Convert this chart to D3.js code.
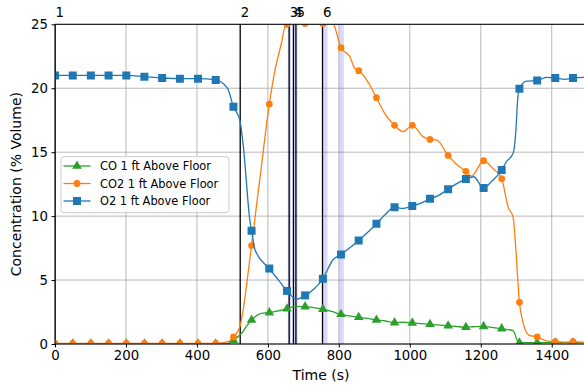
<!DOCTYPE html>
<html><head><meta charset="utf-8">
<script src="https://cdn.jsdelivr.net/npm/d3@7"></script>
<style>body{margin:0;background:#fff}text{font-family:"DejaVu Sans",sans-serif}</style>
</head><body><svg id="c" width="584" height="389"></svg>
<script>
// ---- data ----
const markerTimes = [0,50,101,151,201,252,302,352,403,453,503,554,604,654,705,755,806,856,906,957,1007,1057,1108,1158,1208,1259,1309,1359,1410,1460];
const coMarkers  = [0.02,0.02,0.02,0.02,0.02,0.02,0.02,0.02,0.02,0.02,0.3,1.88,2.45,2.76,2.92,2.71,2.32,2.09,1.88,1.67,1.65,1.54,1.43,1.31,1.38,1.2,0.1,0.1,0.1,0.1];
const co2Markers = [0.05,0.05,0.05,0.05,0.05,0.05,0.05,0.05,0.05,0.05,0.55,7.7,18.75,25.0,25.05,25.05,23.17,21.37,19.26,17.1,17.1,16.0,14.75,13.5,14.33,12.93,3.26,0.55,0.18,0.18];
const o2Markers  = [21.0,21.0,21.0,21.0,21.0,20.9,20.8,20.75,20.75,20.65,18.55,8.86,5.9,4.15,3.8,5.1,7.0,8.1,9.4,10.7,10.8,11.35,12.1,12.9,12.2,13.6,19.96,20.6,20.8,20.8];

const coTimes  = [0,453,490,503,526,540,554,582,604,630,654,680,705,730,755,780,806,830,856,880,906,930,957,980,1007,1030,1057,1080,1108,1130,1158,1180,1208,1230,1259,1291,1305,1309,1359,1410,1460,1500];
const coValues = [0.02,0.02,0.05,0.3,0.84,1.4,1.88,2.4,2.45,2.6,2.76,2.95,2.92,2.85,2.71,2.55,2.32,2.2,2.09,2.0,1.88,1.8,1.67,1.7,1.65,1.6,1.54,1.5,1.43,1.38,1.31,1.35,1.38,1.3,1.2,1.04,0.18,0.1,0.1,0.1,0.1,0.1];

const co2Times  = [0,453,490,503,521,549,554,580,604,620,638,651,654,680,705,730,755,770,786,806,831,845,856,882,906,930,957,981,1007,1038,1057,1076,1108,1130,1158,1174,1208,1235,1259,1277,1291,1299,1309,1320,1335,1359,1384,1410,1435,1460,1500];
const co2Values = [0.05,0.05,0.2,0.55,1.35,6.6,7.7,13.5,18.75,21.4,23.5,25.0,25.0,25.6,25.05,25.4,25.05,25.6,25.0,23.17,22.47,21.55,21.37,20.5,19.26,18.0,17.1,16.6,17.1,16.2,16.0,15.95,14.75,14.1,13.5,13.13,14.33,13.7,12.93,10.7,9.95,7.35,3.26,1.6,0.7,0.55,0.25,0.18,0.15,0.18,0.1];

const o2Times  = [0,201,252,302,352,403,453,486,503,521,531,550,554,564,604,630,654,681,705,730,755,783,806,830,856,880,906,930,957,980,1007,1030,1057,1080,1108,1130,1158,1180,1208,1230,1259,1272,1291,1299,1304,1309,1329,1359,1384,1410,1437,1460,1500];
const o2Values = [21.0,21.0,20.9,20.8,20.75,20.75,20.65,20.0,18.55,17.5,15.4,9.5,8.86,7.35,5.9,5.0,4.15,3.5,3.8,4.3,5.1,6.57,7.0,7.5,8.1,8.7,9.4,10.1,10.7,10.6,10.8,11.0,11.35,11.6,12.1,12.5,12.9,13.08,12.2,12.7,13.6,14.25,14.9,16.7,19.1,19.96,20.55,20.6,20.85,20.8,20.7,20.8,20.85];

const eventLabels = ["1","2","3","4","5","6"];
const eventTimes  = [0,522,660,672,679,754];
const bandStarts  = [656,670,754,801];
const bandEnds    = [665,684,768,814];

const seriesNames = ["CO 1 ft Above Floor","CO2 1 ft Above Floor","O2 1 ft Above Floor"];
const seriesColors = ["#2ca02c","#ff7f0e","#1f77b4"];
const xTicks = [0,200,400,600,800,1000,1200,1400];
const yTicks = [0,5,10,15,20,25];

// ---- chart ----
const svg = d3.select("#c");
const L = 55, T = 24.3, B = 344;
const x = d3.scaleLinear().domain([0,1500]).range([L, L + 1500*0.3548]);
const y = d3.scaleLinear().domain([0,25]).range([B, T]);
const R = 600;

svg.append("defs").append("clipPath").attr("id","clip")
  .append("rect").attr("x",L).attr("y",T).attr("width",R-L).attr("height",B-T);

// grid
const g = svg.append("g");
g.selectAll(".gx").data(xTicks).join("line")
  .attr("x1",d=>x(d)).attr("x2",d=>x(d)).attr("y1",T).attr("y2",B)
  .attr("stroke","#b0b0b0").attr("stroke-width",0.9);
g.selectAll(".gy").data(yTicks).join("line")
  .attr("x1",L).attr("x2",R).attr("y1",d=>y(d)).attr("y2",d=>y(d))
  .attr("stroke","#b0b0b0").attr("stroke-width",0.9);

const plot = svg.append("g").attr("clip-path","url(#clip)");
// bands
plot.selectAll(".band").data(bandStarts).join("rect")
  .attr("x",(d)=>x(d)).attr("width",(d,i)=>x(bandEnds[i])-x(d))
  .attr("y",T).attr("height",B-T).attr("fill","rgb(0,0,255)").attr("fill-opacity",0.15);
// event lines
plot.selectAll(".ev").data(eventTimes).join("line")
  .attr("x1",d=>x(d)).attr("x2",d=>x(d)).attr("y1",T).attr("y2",B)
  .attr("stroke","#000").attr("stroke-width",1.3);

const line = d3.line().x(d=>x(d[0])).y(d=>y(d[1])).curve(d3.curveMonotoneX);
const lineData = [
  d3.zip(coTimes,coValues), d3.zip(co2Times,co2Values), d3.zip(o2Times,o2Values)
];
const markData = [
  d3.zip(markerTimes,coMarkers), d3.zip(markerTimes,co2Markers), d3.zip(markerTimes,o2Markers)
];
const symbols = [d3.symbolTriangle, d3.symbolCircle, d3.symbolSquare];
const symSizes = [40, 36, 64];

function drawMarker(sel, i){
  sel.attr("d", d3.symbol().type(symbols[i]).size(symSizes[i])()).attr("fill",seriesColors[i]);
}
for (let i=0;i<3;i++){
  plot.append("path").datum(lineData[i]).attr("d",line)
    .attr("fill","none").attr("stroke",seriesColors[i]).attr("stroke-width",1.3);
  plot.selectAll(".m"+i).data(markData[i]).join("path")
    .attr("transform",d=>`translate(${x(d[0])},${y(d[1])})`)
    .call(drawMarker,i);
}

// spines
svg.append("line").attr("x1",L).attr("x2",L).attr("y1",T).attr("y2",B).attr("stroke","#000").attr("stroke-width",1);
svg.append("line").attr("x1",L).attr("x2",R).attr("y1",B).attr("y2",B).attr("stroke","#000").attr("stroke-width",1);
svg.append("line").attr("x1",L).attr("x2",R).attr("y1",T).attr("y2",T).attr("stroke","#000").attr("stroke-width",1);

// axes
const xa = svg.append("g").attr("transform",`translate(0,${B})`)
  .call(d3.axisBottom(x).tickValues(xTicks).tickSize(3.5).tickPadding(3.5).tickFormat(d3.format("d")));
const ya = svg.append("g").attr("transform",`translate(${L},0)`)
  .call(d3.axisLeft(y).tickValues(yTicks).tickSize(3.5).tickPadding(3.5));
[xa,ya].forEach(a=>{
  a.select(".domain").remove();
  a.selectAll("text").attr("font-family","DejaVu Sans").attr("font-size",13.3).attr("fill","#000");
  a.selectAll("line").attr("stroke","#000");
});

svg.append("text").attr("x",321).attr("y",380).attr("text-anchor","middle")
  .attr("font-size",14).text("Time (s)");
svg.append("text").attr("transform",`translate(21,${(T+B)/2}) rotate(-90)`).attr("text-anchor","middle")
  .attr("font-size",14).text("Concentration (% Volume)");

// event labels
svg.selectAll(".el").data(eventLabels).join("text")
  .attr("x",(d,i)=>x(eventTimes[i])+0.5).attr("y",16.5).attr("font-size",13.3).text(d=>d);

// legend
const lg = svg.append("g");
lg.append("rect").attr("x",61).attr("y",156.7).attr("width",168).attr("height",56).attr("rx",3)
  .attr("fill","#fff").attr("fill-opacity",0.8).attr("stroke","#cccccc").attr("stroke-width",1);
seriesNames.forEach((n,i)=>{
  const yy = 166 + i*17.5;
  lg.append("line").attr("x1",63.5).attr("x2",90.5).attr("y1",yy).attr("y2",yy)
    .attr("stroke",seriesColors[i]).attr("stroke-width",1.3);
  lg.append("path").attr("transform",`translate(77,${yy})`).call(drawMarker,i);
  lg.append("text").attr("x",100).attr("y",yy+4).attr("font-size",11.4).text(n);
});
</script></body></html>
